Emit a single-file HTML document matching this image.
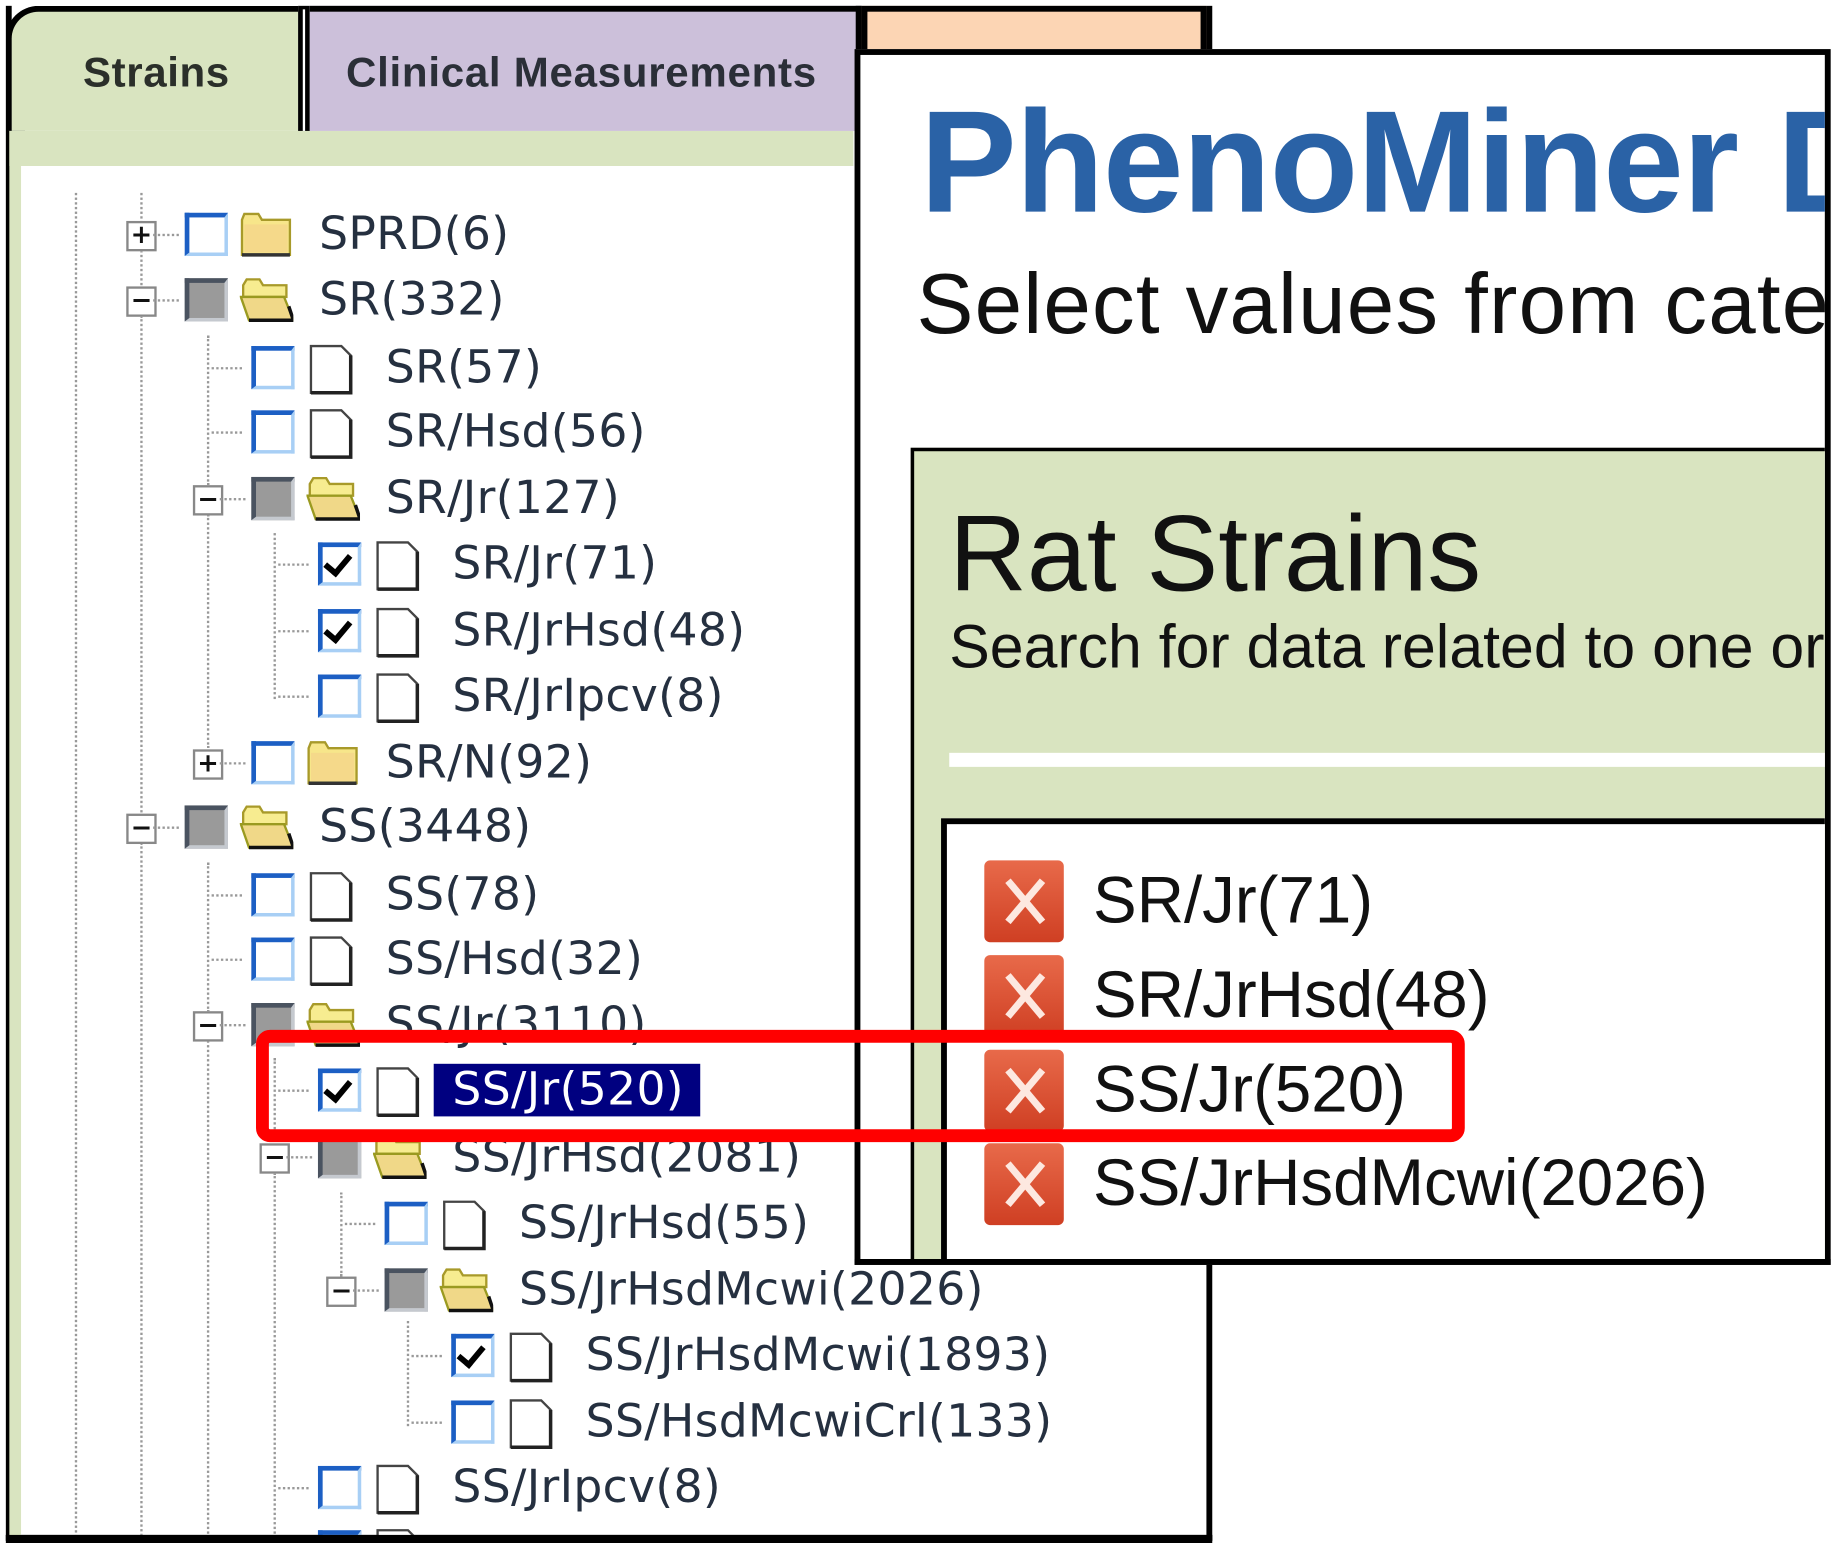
<!DOCTYPE html>
<html><head><meta charset="utf-8"><style>
html,body{margin:0;padding:0;background:#fff;overflow:hidden}
#s{position:absolute;left:0;top:0;width:1568px;height:1320px;transform:scale(1.16901);transform-origin:0 0;background:#fff;overflow:hidden}
.a{position:absolute}
.row{position:absolute;height:56px;width:800px}
.ex{position:absolute;left:108px;top:16px;width:22px;height:22px;border:2px solid #888;background:#fff;font:bold 22px/22px "DejaVu Sans",sans-serif;text-align:center;color:#111}
.cb{position:absolute;left:158px;top:9px;width:30px;height:30px;background:#fff;border-top:4px solid #1c5fc4;border-left:4px solid #1c5fc4;border-bottom:3px solid #a8cff5;border-right:3px solid #a8cff5}
.cb.p{background:#9a9a9a;border-top-color:#4a5360;border-left-color:#4a5360;border-bottom-color:#c5c9cf;border-right-color:#c5c9cf}
.cb.c::after{content:"";position:absolute;left:6px;top:2px;width:9px;height:17px;border-right:5px solid #000;border-bottom:5px solid #000;transform:rotate(40deg)}
.ic{position:absolute;left:205px;top:6px}
.t{position:absolute;left:273px;top:0;font:39px/56px "DejaVu Sans",sans-serif;color:#253040;white-space:nowrap;letter-spacing:0.3px}
.hl{background:#000080;color:#fff;padding:0 14px 0 16px;margin-left:-16px}
.hd{position:absolute;border-top:2px dotted #999;width:22px;left:131px;top:27px}
.hl2{position:absolute;border-top:2px dotted #999;width:26px;left:124px;top:27px}
.vd{position:absolute;border-left:2px dotted #999;width:0}
.xi{position:absolute;left:842px;width:68px;height:70px;border-radius:5px;background:linear-gradient(#e86a4a,#cf3f23);}
.xi::before,.xi::after{content:"";position:absolute;left:32px;top:12px;width:6px;height:46px;background:#fde8e0;transform:rotate(40deg)}
.xi::after{transform:rotate(-40deg)}
.xt{position:absolute;left:935px;font:56px/70px "Liberation Sans",sans-serif;color:#111;white-space:nowrap}
</style></head><body><div id="s">
<div class="a" style="left:5px;top:5px;width:1022px;height:1308px;border:5px solid #000;border-top:none;background:#fff"></div>
<div class="a" style="left:8px;top:112px;width:722px;height:30px;background:#d9e4c0"></div>
<div class="a" style="left:8px;top:112px;width:10px;height:1205px;background:#d9e4c0"></div>
<div class="a" style="left:5px;top:5px;width:250px;height:107px;background:#d9e4c0;border-top:5px solid #000;border-left:5px solid #000;border-top-left-radius:28px;box-sizing:border-box"></div>
<div class="a" style="left:255px;top:5px;width:10px;height:107px;background:#000"></div>
<div class="a" style="left:259px;top:8px;width:2px;height:104px;background:#fff"></div>
<div class="a" style="left:265px;top:5px;width:472px;height:107px;background:#ccc0da;border-top:5px solid #000;border-right:5px solid #000;box-sizing:border-box"></div>
<div class="a" style="left:737px;top:5px;width:295px;height:45px;background:#fcd5b4;border:5px solid #000;box-sizing:border-box"></div>
<div class="a" style="left:71px;top:42px;font:bold 36px/40px 'Liberation Sans',sans-serif;color:#2b2f2a;letter-spacing:0.5px">Strains</div>
<div class="a" style="left:296px;top:42px;font:bold 36px/40px 'Liberation Sans',sans-serif;color:#2b2f38;letter-spacing:0.6px">Clinical Measurements</div>
<div class="vd" style="left:64px;top:165px;height:1150px"></div>
<div class="vd" style="left:120px;top:165px;height:30px"></div>
<div class="vd" style="left:120px;top:214px;height:30px"></div>
<div class="vd" style="left:120px;top:270px;height:425px"></div>
<div class="vd" style="left:120px;top:721px;height:600px"></div>
<div class="vd" style="left:177px;top:287px;height:128px"></div>
<div class="vd" style="left:177px;top:440px;height:200px"></div>
<div class="vd" style="left:177px;top:738px;height:128px"></div>
<div class="vd" style="left:177px;top:890px;height:430px"></div>
<div class="vd" style="left:234px;top:456px;height:142px"></div>
<div class="vd" style="left:234px;top:905px;height:72px"></div>
<div class="vd" style="left:234px;top:1003px;height:320px"></div>
<div class="vd" style="left:291px;top:1020px;height:72px"></div>
<div class="vd" style="left:348px;top:1130px;height:90px"></div>

<svg width="0" height="0" style="position:absolute"><defs>
<symbol id="fc" viewBox="0 0 46 40"><path d="M2 8 L4 3 L16 3 L19 8 L43 8 L43 38 L2 38Z" fill="#f7e68a" stroke="#a89a2a" stroke-width="2"/><rect x="4" y="12" width="37" height="24" fill="#f5d98a"/><path d="M2 38 L43 38" stroke="#333" stroke-width="3"/></symbol>
<symbol id="fo" viewBox="0 0 46 40"><path d="M3 8 L6 3 L17 3 L20 8 L40 8 L40 18 L3 18Z" fill="#f7ec90" stroke="#a89a2a" stroke-width="2"/><path d="M1 18 L38 18 L46 38 L8 38Z" fill="#f0d888" stroke="#9a9a20" stroke-width="2"/><path d="M8 38 L46 38 L42 26" stroke="#111" stroke-width="3" fill="none"/></symbol>
<symbol id="dc" viewBox="0 0 46 44"><path d="M4 2 L30 2 L38 10 L38 42 L4 42Z" fill="#fff" stroke="#444" stroke-width="2"/><path d="M4 42 L38 42 L38 10" stroke="#222" stroke-width="3" fill="none"/></symbol>
</defs></svg>

<div class="row" style="left:0;top:173px"><div class="ex">+</div><div class="hd"></div><div class="cb"></div><svg class="ic" width="46" height="42"><use href="#fc"/></svg><div class="t">SPRD(6)</div></div>
<div class="row" style="left:0;top:229px"><div class="ex">−</div><div class="hd"></div><div class="cb p"></div><svg class="ic" width="46" height="42"><use href="#fo"/></svg><div class="t">SR(332)</div></div>
<div class="row" style="left:57px;top:287px"><div class="hl2"></div><div class="cb"></div><svg class="ic" width="46" height="46"><use href="#dc"/></svg><div class="t">SR(57)</div></div>
<div class="row" style="left:57px;top:342px"><div class="hl2"></div><div class="cb"></div><svg class="ic" width="46" height="46"><use href="#dc"/></svg><div class="t">SR/Hsd(56)</div></div>
<div class="row" style="left:57px;top:399px"><div class="ex">−</div><div class="hd"></div><div class="cb p"></div><svg class="ic" width="46" height="42"><use href="#fo"/></svg><div class="t">SR/Jr(127)</div></div>
<div class="row" style="left:114px;top:455px"><div class="hl2"></div><div class="cb c"></div><svg class="ic" width="46" height="46"><use href="#dc"/></svg><div class="t">SR/Jr(71)</div></div>
<div class="row" style="left:114px;top:512px"><div class="hl2"></div><div class="cb c"></div><svg class="ic" width="46" height="46"><use href="#dc"/></svg><div class="t">SR/JrHsd(48)</div></div>
<div class="row" style="left:114px;top:568px"><div class="hl2"></div><div class="cb"></div><svg class="ic" width="46" height="46"><use href="#dc"/></svg><div class="t">SR/JrIpcv(8)</div></div>
<div class="row" style="left:57px;top:625px"><div class="ex">+</div><div class="hd"></div><div class="cb"></div><svg class="ic" width="46" height="42"><use href="#fc"/></svg><div class="t">SR/N(92)</div></div>
<div class="row" style="left:0;top:680px"><div class="ex">−</div><div class="hd"></div><div class="cb p"></div><svg class="ic" width="46" height="42"><use href="#fo"/></svg><div class="t">SS(3448)</div></div>
<div class="row" style="left:57px;top:738px"><div class="hl2"></div><div class="cb"></div><svg class="ic" width="46" height="46"><use href="#dc"/></svg><div class="t">SS(78)</div></div>
<div class="row" style="left:57px;top:793px"><div class="hl2"></div><div class="cb"></div><svg class="ic" width="46" height="46"><use href="#dc"/></svg><div class="t">SS/Hsd(32)</div></div>
<div class="row" style="left:57px;top:849px"><div class="ex">−</div><div class="hd"></div><div class="cb p"></div><svg class="ic" width="46" height="42"><use href="#fo"/></svg><div class="t">SS/Jr(3110)</div></div>
<div class="row" style="left:114px;top:905px"><div class="hl2"></div><div class="cb c"></div><svg class="ic" width="46" height="46"><use href="#dc"/></svg><div class="t"><span class="hl">SS/Jr(520)</span></div></div>
<div class="row" style="left:114px;top:962px"><div class="ex">−</div><div class="hd"></div><div class="cb p"></div><svg class="ic" width="46" height="42"><use href="#fo"/></svg><div class="t">SS/JrHsd(2081)</div></div>
<div class="row" style="left:171px;top:1019px"><div class="hl2"></div><div class="cb"></div><svg class="ic" width="46" height="46"><use href="#dc"/></svg><div class="t">SS/JrHsd(55)</div></div>
<div class="row" style="left:171px;top:1076px"><div class="ex">−</div><div class="hd"></div><div class="cb p"></div><svg class="ic" width="46" height="42"><use href="#fo"/></svg><div class="t">SS/JrHsdMcwi(2026)</div></div>
<div class="row" style="left:228px;top:1132px"><div class="hl2"></div><div class="cb c"></div><svg class="ic" width="46" height="46"><use href="#dc"/></svg><div class="t">SS/JrHsdMcwi(1893)</div></div>
<div class="row" style="left:228px;top:1189px"><div class="hl2"></div><div class="cb"></div><svg class="ic" width="46" height="46"><use href="#dc"/></svg><div class="t">SS/HsdMcwiCrl(133)</div></div>
<div class="row" style="left:114px;top:1245px"><div class="hl2"></div><div class="cb"></div><svg class="ic" width="46" height="46"><use href="#dc"/></svg><div class="t">SS/JrIpcv(8)</div></div>
<div class="row" style="left:114px;top:1300px"><div class="cb c"></div><svg class="ic" width="46" height="46"><use href="#dc"/></svg></div>
<div class="a" style="left:5px;top:1313px;width:1032px;height:7px;background:#000"></div>
<div class="a" style="left:0;top:1320px;width:1568px;height:10px;background:#fff"></div>

<div class="a" style="left:731px;top:42px;width:835px;height:1040px;border:5px solid #000;background:#fff;box-sizing:border-box;overflow:hidden">
 <div class="a" style="left:51px;top:22px;font:bold 124px/140px 'Liberation Sans',sans-serif;color:#2a62a6;white-space:nowrap;letter-spacing:-1px">PhenoMiner D</div>
 <div class="a" style="left:48px;top:172px;font:73px/84px 'Liberation Sans',sans-serif;color:#111;white-space:nowrap;letter-spacing:1px">Select values from cate</div>
 <div class="a" style="left:43px;top:336px;width:900px;height:800px;border:3px solid #000;background:#d9e4c0">
  <div class="a" style="left:30px;top:38px;font:92px/100px 'Liberation Sans',sans-serif;color:#111;white-space:nowrap">Rat Strains</div>
  <div class="a" style="left:30px;top:140px;font:52px/56px 'Liberation Sans',sans-serif;color:#111;white-space:nowrap">Search for data related to one or</div>
  <div class="a" style="left:30px;top:258px;width:900px;height:12px;background:#fff"></div>
  <div class="a" style="left:23px;top:314px;width:900px;height:600px;border:5px solid #000;background:#fff"></div>
 </div>
</div>
<div class="xi" style="top:736px"></div><div class="xt" style="top:735px">SR/Jr(71)</div>
<div class="xi" style="top:817px"></div><div class="xt" style="top:816px">SR/JrHsd(48)</div>
<div class="xi" style="top:898px"></div><div class="xt" style="top:897px">SS/Jr(520)</div>
<div class="xi" style="top:978px"></div><div class="xt" style="top:977px">SS/JrHsdMcwi(2026)</div>
<div class="a" style="left:731px;top:1077px;width:835px;height:5px;background:#000"></div>

<div class="a" style="left:219px;top:881px;width:1034px;height:96px;border:11px solid #f00;border-radius:12px;box-sizing:border-box"></div>
</div></body></html>
